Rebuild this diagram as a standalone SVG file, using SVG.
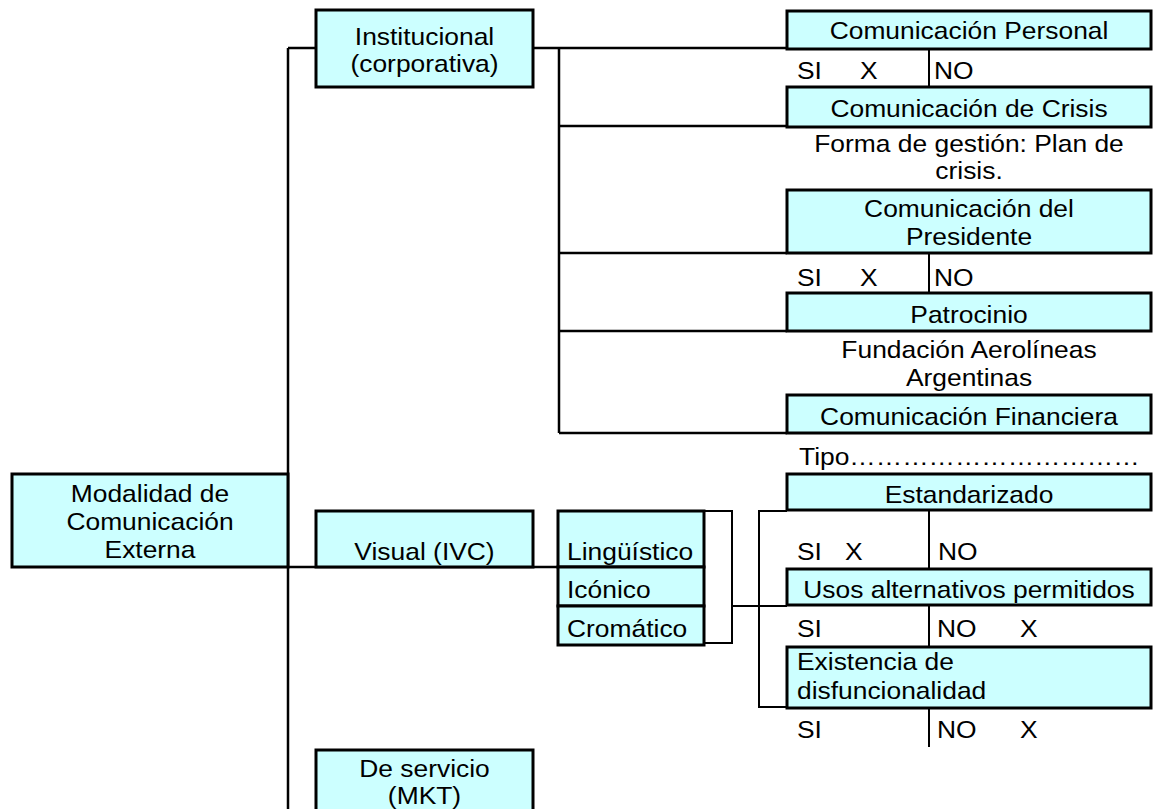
<svg xmlns="http://www.w3.org/2000/svg" width="1154" height="809" viewBox="0 0 1154 809">
<style>
.box{fill:#CCFFFF;stroke:#000;stroke-width:3}
.ln{stroke:#000;stroke-width:2.5;fill:none}
.dv{stroke:#000;stroke-width:2;fill:none}
text{font-family:"Liberation Sans",Arial,sans-serif;font-size:24px;fill:#000}
.c{text-anchor:middle}
</style>
<rect width="1154" height="809" fill="#fff"/>
<g id="connectors">
<path class="ln" d="M288,48 H316 M288,48 V809 M288,567 H558"/>
<path class="ln" d="M533,48 H787 M559,48 V433 M559,126 H787 M559,253 H787 M559,331 H787 M559,433 H787"/>
<path class="dv" d="M704,511 H732 V643 H704 M732,606 H787 M787,511 H759 V707 H787"/>
<path class="dv" d="M929,49 V87 M929,253 V293 M929,510 V569 M929,605 V647 M929,708 V747"/>
</g>
<g id="n-modalidad"><rect class="box" x="12" y="474" width="276" height="93"/>
<text class="c" transform="translate(150,502) scale(1.1,1)">Modalidad de</text><text class="c" transform="translate(150,530) scale(1.1,1)">Comunicación</text><text class="c" transform="translate(150,558) scale(1.1,1)">Externa</text></g>
<g id="n-institucional"><rect class="box" x="316" y="10" width="217" height="77"/>
<text class="c" transform="translate(424.5,45) scale(1.1,1)">Institucional</text><text class="c" transform="translate(424.5,72) scale(1.1,1)">(corporativa)</text></g>
<g id="n-visual"><rect class="box" x="316" y="511" width="217" height="56"/>
<text class="c" transform="translate(424.5,560) scale(1.1,1)">Visual (IVC)</text></g>
<g id="n-servicio"><rect class="box" x="316" y="750" width="217" height="70"/>
<text class="c" transform="translate(424.5,777) scale(1.1,1)">De servicio</text><text class="c" transform="translate(424.5,804) scale(1.1,1)">(MKT)</text></g>
<g id="n-linguistico"><rect class="box" x="558" y="511" width="146" height="56"/><text transform="translate(567,560) scale(1.1,1)">Lingüístico</text></g>
<g id="n-iconico"><rect class="box" x="558" y="567" width="146" height="39"/><text transform="translate(567,598) scale(1.1,1)">Icónico</text></g>
<g id="n-cromatico"><rect class="box" x="558" y="606" width="146" height="39"/><text transform="translate(567,637) scale(1.1,1)">Cromático</text></g>
<g id="n-personal"><rect class="box" x="787" y="11" width="364" height="38"/><text class="c" transform="translate(969,39) scale(1.1,1)">Comunicación Personal</text></g>
<g id="t-personal"><text transform="translate(797,79) scale(1.1,1)">SI</text><text transform="translate(860,79) scale(1.1,1)">X</text><text transform="translate(934,79) scale(1.1,1)">NO</text></g>
<g id="n-crisis"><rect class="box" x="787" y="87" width="364" height="40"/><text class="c" transform="translate(969,117) scale(1.1,1)">Comunicación de Crisis</text></g>
<g id="t-crisis"><text class="c" transform="translate(969,152) scale(1.1,1)">Forma de gestión: Plan de</text><text class="c" transform="translate(969,179) scale(1.1,1)">crisis.</text></g>
<g id="n-presidente"><rect class="box" x="787" y="190" width="364" height="63"/><text class="c" transform="translate(969,217) scale(1.1,1)">Comunicación del</text><text class="c" transform="translate(969,245) scale(1.1,1)">Presidente</text></g>
<g id="t-presidente"><text transform="translate(797,286) scale(1.1,1)">SI</text><text transform="translate(860,286) scale(1.1,1)">X</text><text transform="translate(934,286) scale(1.1,1)">NO</text></g>
<g id="n-patrocinio"><rect class="box" x="787" y="293" width="364" height="38"/><text class="c" transform="translate(969,323) scale(1.1,1)">Patrocinio</text></g>
<g id="t-patrocinio"><text class="c" transform="translate(969,358) scale(1.1,1)">Fundación Aerolíneas</text><text class="c" transform="translate(969,386) scale(1.1,1)">Argentinas</text></g>
<g id="n-financiera"><rect class="box" x="787" y="395" width="364" height="38"/><text class="c" transform="translate(969,425) scale(1.1,1)">Comunicación Financiera</text></g>
<g id="t-financiera"><text transform="translate(799,465) scale(1.1,1)">Tipo……………………………</text></g>
<g id="n-estandarizado"><rect class="box" x="787" y="474" width="364" height="36"/><text class="c" transform="translate(969,503) scale(1.1,1)">Estandarizado</text></g>
<g id="t-estandarizado"><text transform="translate(797,560) scale(1.1,1)">SI</text><text transform="translate(845,560) scale(1.1,1)">X</text><text transform="translate(938,560) scale(1.1,1)">NO</text></g>
<g id="n-usos"><rect class="box" x="787" y="569" width="364" height="36"/><text class="c" transform="translate(969,598) scale(1.1,1)">Usos alternativos permitidos</text></g>
<g id="t-usos"><text transform="translate(797,637) scale(1.1,1)">SI</text><text transform="translate(937,637) scale(1.1,1)">NO</text><text transform="translate(1020,637) scale(1.1,1)">X</text></g>
<g id="n-existencia"><rect class="box" x="787" y="647" width="364" height="61"/><text transform="translate(797,670) scale(1.1,1)">Existencia de</text><text transform="translate(797,699) scale(1.1,1)">disfuncionalidad</text></g>
<g id="t-existencia"><text transform="translate(797,738) scale(1.1,1)">SI</text><text transform="translate(937,738) scale(1.1,1)">NO</text><text transform="translate(1020,738) scale(1.1,1)">X</text></g>
</svg>
